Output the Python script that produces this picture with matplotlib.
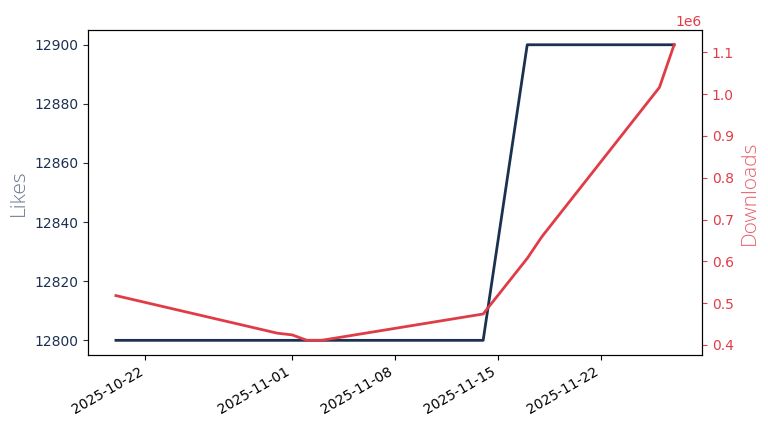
import matplotlib
matplotlib.use("Agg")
import matplotlib.pyplot as plt
import matplotlib.dates as mdates
import pandas as pd

dates = ["2025-10-20", "2025-10-31", "2025-11-01", "2025-11-02", "2025-11-03",
         "2025-11-14", "2025-11-17", "2025-11-18", "2025-11-26", "2025-11-27"]
likes = [12800, 12800, 12800, 12800, 12800, 12800, 12900, 12900, 12900, 12900]
downloads = [518000, 428000, 424000, 411000, 411000,
             474000, 607000, 659000, 1016000, 1118000]

x = pd.to_datetime(dates)

likes_color = "#1c3150"
dl_color = "#e03c48"

fig = plt.figure(figsize=(7.68, 4.32), dpi=100)
ax = fig.add_axes([0.1146, 0.178, 0.7995, 0.7526])
ax.plot(x, likes, color=likes_color, linewidth=2)
ax.set_ylabel("Likes", color=likes_color, alpha=0.65, fontsize=15,
              family="Open Sans", fontweight="light")
ax.tick_params(axis="y", colors=likes_color)
ax.tick_params(axis="x", colors="black")

ax2 = ax.twinx()
ax2.plot(x, downloads, color=dl_color, linewidth=2)
ax2.set_ylabel("Downloads", color=dl_color, alpha=0.8, fontsize=15,
               family="Open Sans", fontweight="light")
ax2.tick_params(axis="y", colors=dl_color)
ax2.yaxis.get_offset_text().set_color(dl_color)

ax.xaxis.set_major_locator(mdates.DayLocator(bymonthday=[1, 8, 15, 22]))
ax.xaxis.set_major_formatter(mdates.DateFormatter("%Y-%m-%d"))
for lbl in ax.get_xticklabels():
    lbl.set_rotation(30)
    lbl.set_ha("right")

fig.savefig("out.png", dpi=100)
